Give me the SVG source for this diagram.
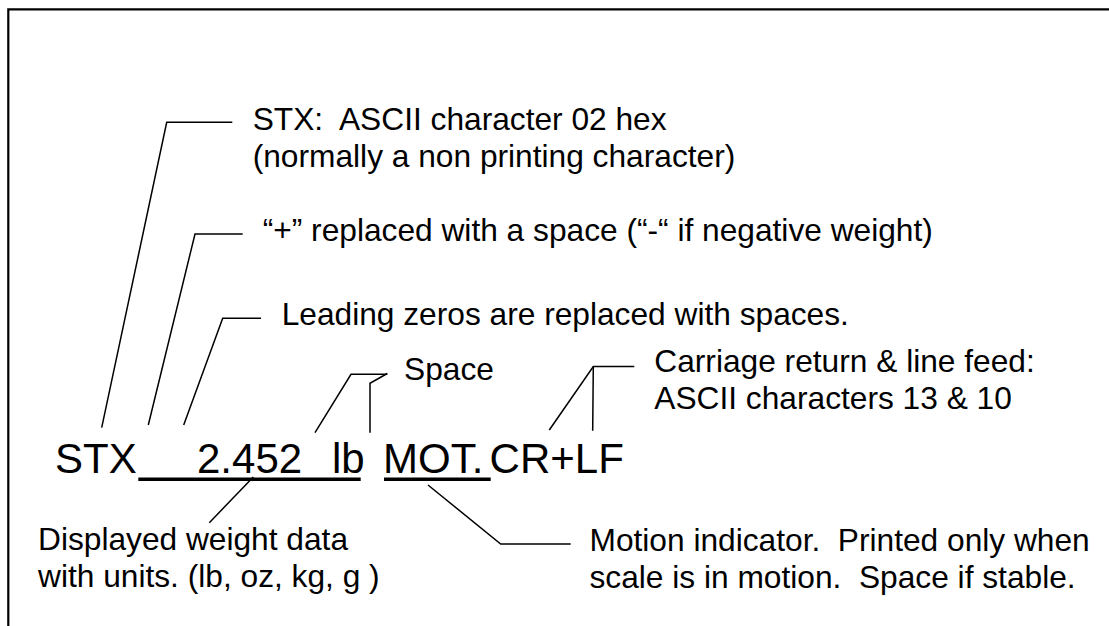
<svg xmlns="http://www.w3.org/2000/svg" width="1109" height="626" viewBox="0 0 1109 626">
<style>
text{font-family:"Liberation Sans",Arial,sans-serif;fill:#000;white-space:pre}
.a{font-size:31.7px}
.m{font-size:42px}
.ld{fill:none;stroke:#000;stroke-width:1.5;stroke-linejoin:miter}
.ul{stroke:#000;stroke-width:3.5}
.fr{fill:none;stroke:#000;stroke-width:2.2}
</style>
<rect width="1109" height="626" fill="#fff"/>
<path class="fr" d="M8.3,626 V9.3 H1109"/>
<g id="connectors">
<polyline class="ld" points="101.7,427.7 166.7,122.3 232.3,122.3"/>
<polyline class="ld" points="148.3,425 195,234 242.7,234"/>
<polyline class="ld" points="183.7,425 222.7,318.3 261,318.3"/>
<polyline class="ld" points="315,432.7 351,374.3 387.3,374.3"/>
<polyline class="ld" points="370,432.7 370,383.3 387.3,373.5"/>
<polyline class="ld" points="549.3,430 593.3,366.5 634.3,366.5"/>
<polyline class="ld" points="592.7,430.7 593.3,366.5"/>
<polyline class="ld" points="253.3,477 209.3,522.7"/>
<polyline class="ld" points="428,485 500.7,544 570.7,544"/>
</g>
<g id="data-line">
<text class="m" x="55" y="472.7">STX</text>
<text class="m" x="197" y="472.7">2.452</text>
<text class="m" x="332" y="472.7">lb</text>
<text class="m" x="383" y="472.7">MOT.</text>
<text class="m" x="489.6" y="472.7">CR+LF</text>
<line class="ul" x1="138.3" y1="479.2" x2="360.7" y2="479.2"/>
<line class="ul" x1="384" y1="479.2" x2="490.7" y2="479.2"/>
</g>
<g id="stx-note">
<text class="a" x="252.7" y="130" xml:space="preserve">STX:  ASCII character 02 hex</text>
<text class="a" x="252.7" y="166.5">(normally a non printing character)</text>
</g>
<g id="sign-note">
<text class="a" x="262.7" y="241">“+” replaced with a space (“-“ if negative weight)</text>
</g>
<g id="zeros-note">
<text class="a" x="281.7" y="325">Leading zeros are replaced with spaces.</text>
</g>
<g id="space-note">
<text class="a" x="404" y="380">Space</text>
</g>
<g id="crlf-note">
<text class="a" x="654.3" y="372">Carriage return &amp; line feed:</text>
<text class="a" x="654.3" y="408.8">ASCII characters 13 &amp; 10</text>
</g>
<g id="weight-note">
<text class="a" x="38" y="550">Displayed weight data</text>
<text class="a" x="38" y="586.7">with units. (lb, oz, kg, g )</text>
</g>
<g id="motion-note">
<text class="a" x="589.5" y="551" xml:space="preserve">Motion indicator.  Printed only when</text>
<text class="a" x="589.5" y="587.8" xml:space="preserve">scale is in motion.  Space if stable.</text>
</g>
</svg>
